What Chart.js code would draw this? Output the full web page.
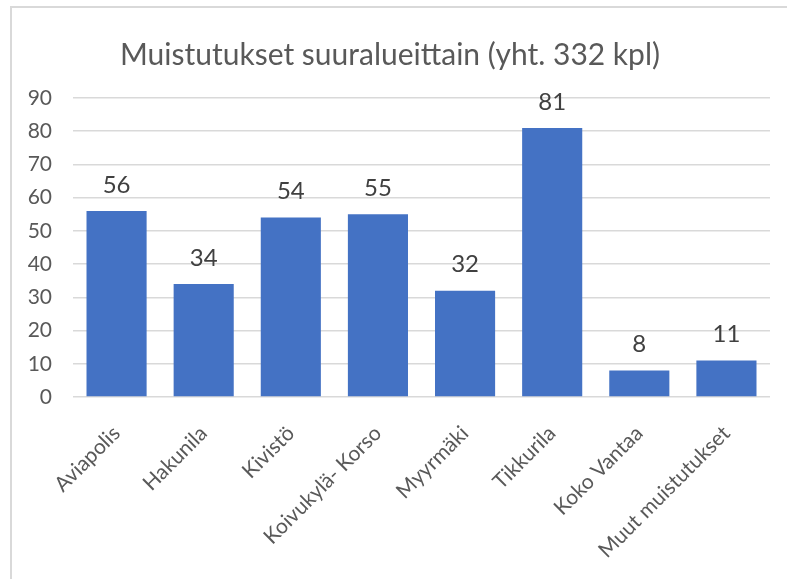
<!DOCTYPE html>
<html>
<head>
<meta charset="utf-8">
<script src="https://cdn.jsdelivr.net/npm/chart.js@4/dist/chart.umd.min.js"></script>
<style>
  html, body { margin: 0; padding: 0; background: #fff; }
  #wrap { position: relative; width: 787px; height: 579px; }
  #frame { position: absolute; left: 10px; top: 6px; right: 0; bottom: 0;
           border-top: 2px solid #d9d9d9; border-left: 2px solid #d9d9d9; }
  canvas { position: absolute; left: 0; top: 0; }
</style>
</head>
<body>
<div id="wrap">
  <div id="frame"></div>
  <canvas id="chart" width="787" height="579"></canvas>
</div>
<script>
// data
var regions = ["Aviapolis", "Hakunila", "Kivistö", "Koivukylä- Korso", "Myyrmäki", "Tikkurila", "Koko Vantaa", "Muut muistutukset"];
var counts = [56, 34, 54, 55, 32, 81, 8, 11];
var yTicks = [0, 10, 20, 30, 40, 50, 60, 70, 80, 90];
var chartTitle = "Muistutukset suuralueittain (yht. 332 kpl)";

var fontName = "Lato, 'Open Sans', sans-serif";

// numbers above the bars
var barLabels = {
    id: "barLabels",
    afterDatasetsDraw: function(chart){
        var ctx = chart.ctx;
        var meta = chart.getDatasetMeta(0);
        ctx.save();
        ctx.font = "24px " + fontName;
        ctx.fillStyle = "#404040";
        ctx.textAlign = "center";
        ctx.textBaseline = "middle";
        meta.data.forEach(function(bar, i){
            ctx.fillText(String(counts[i]), bar.x, bar.y - 26);
        });
        ctx.restore();
    }
};

new Chart(document.getElementById("chart"), {
    type: "bar",
    data: {
        labels: regions,
        datasets: [{
            data: counts,
            backgroundColor: "#4472c4",
            categoryPercentage: 1,
            barPercentage: 0.69
        }]
    },
    options: {
        responsive: false,
        animation: false,
        layout: { padding: { left: 10, right: 17, top: 7, bottom: 7 } },
        plugins: {
            legend: { display: false },
            tooltip: { enabled: false },
            title: {
                display: true,
                text: chartTitle,
                color: "#595959",
                font: { family: fontName, size: 30, weight: "normal" },
                padding: { top: 30, bottom: 25 }
            }
        },
        scales: {
            x: {
                grid: { display: false },
                border: { display: false },
                ticks: {
                    color: "#595959",
                    font: { family: fontName, size: 21 },
                    minRotation: 45,
                    maxRotation: 45,
                    padding: 16
                },
                afterFit: function(scale){ scale.height = 175; }
            },
            y: {
                min: 0,
                max: 90,
                afterBuildTicks: function(scale){
                    scale.ticks = yTicks.map(function(v){ return { value: v }; });
                },
                grid: { color: "#d9d9d9", lineWidth: 1.5, drawTicks: false },
                border: { display: false },
                ticks: {
                    color: "#595959",
                    font: { family: fontName, size: 21 },
                    padding: 21
                },
                afterFit: function(scale){ scale.width = 63; }
            }
        }
    },
    plugins: [barLabels]
});
</script>
</body>
</html>
